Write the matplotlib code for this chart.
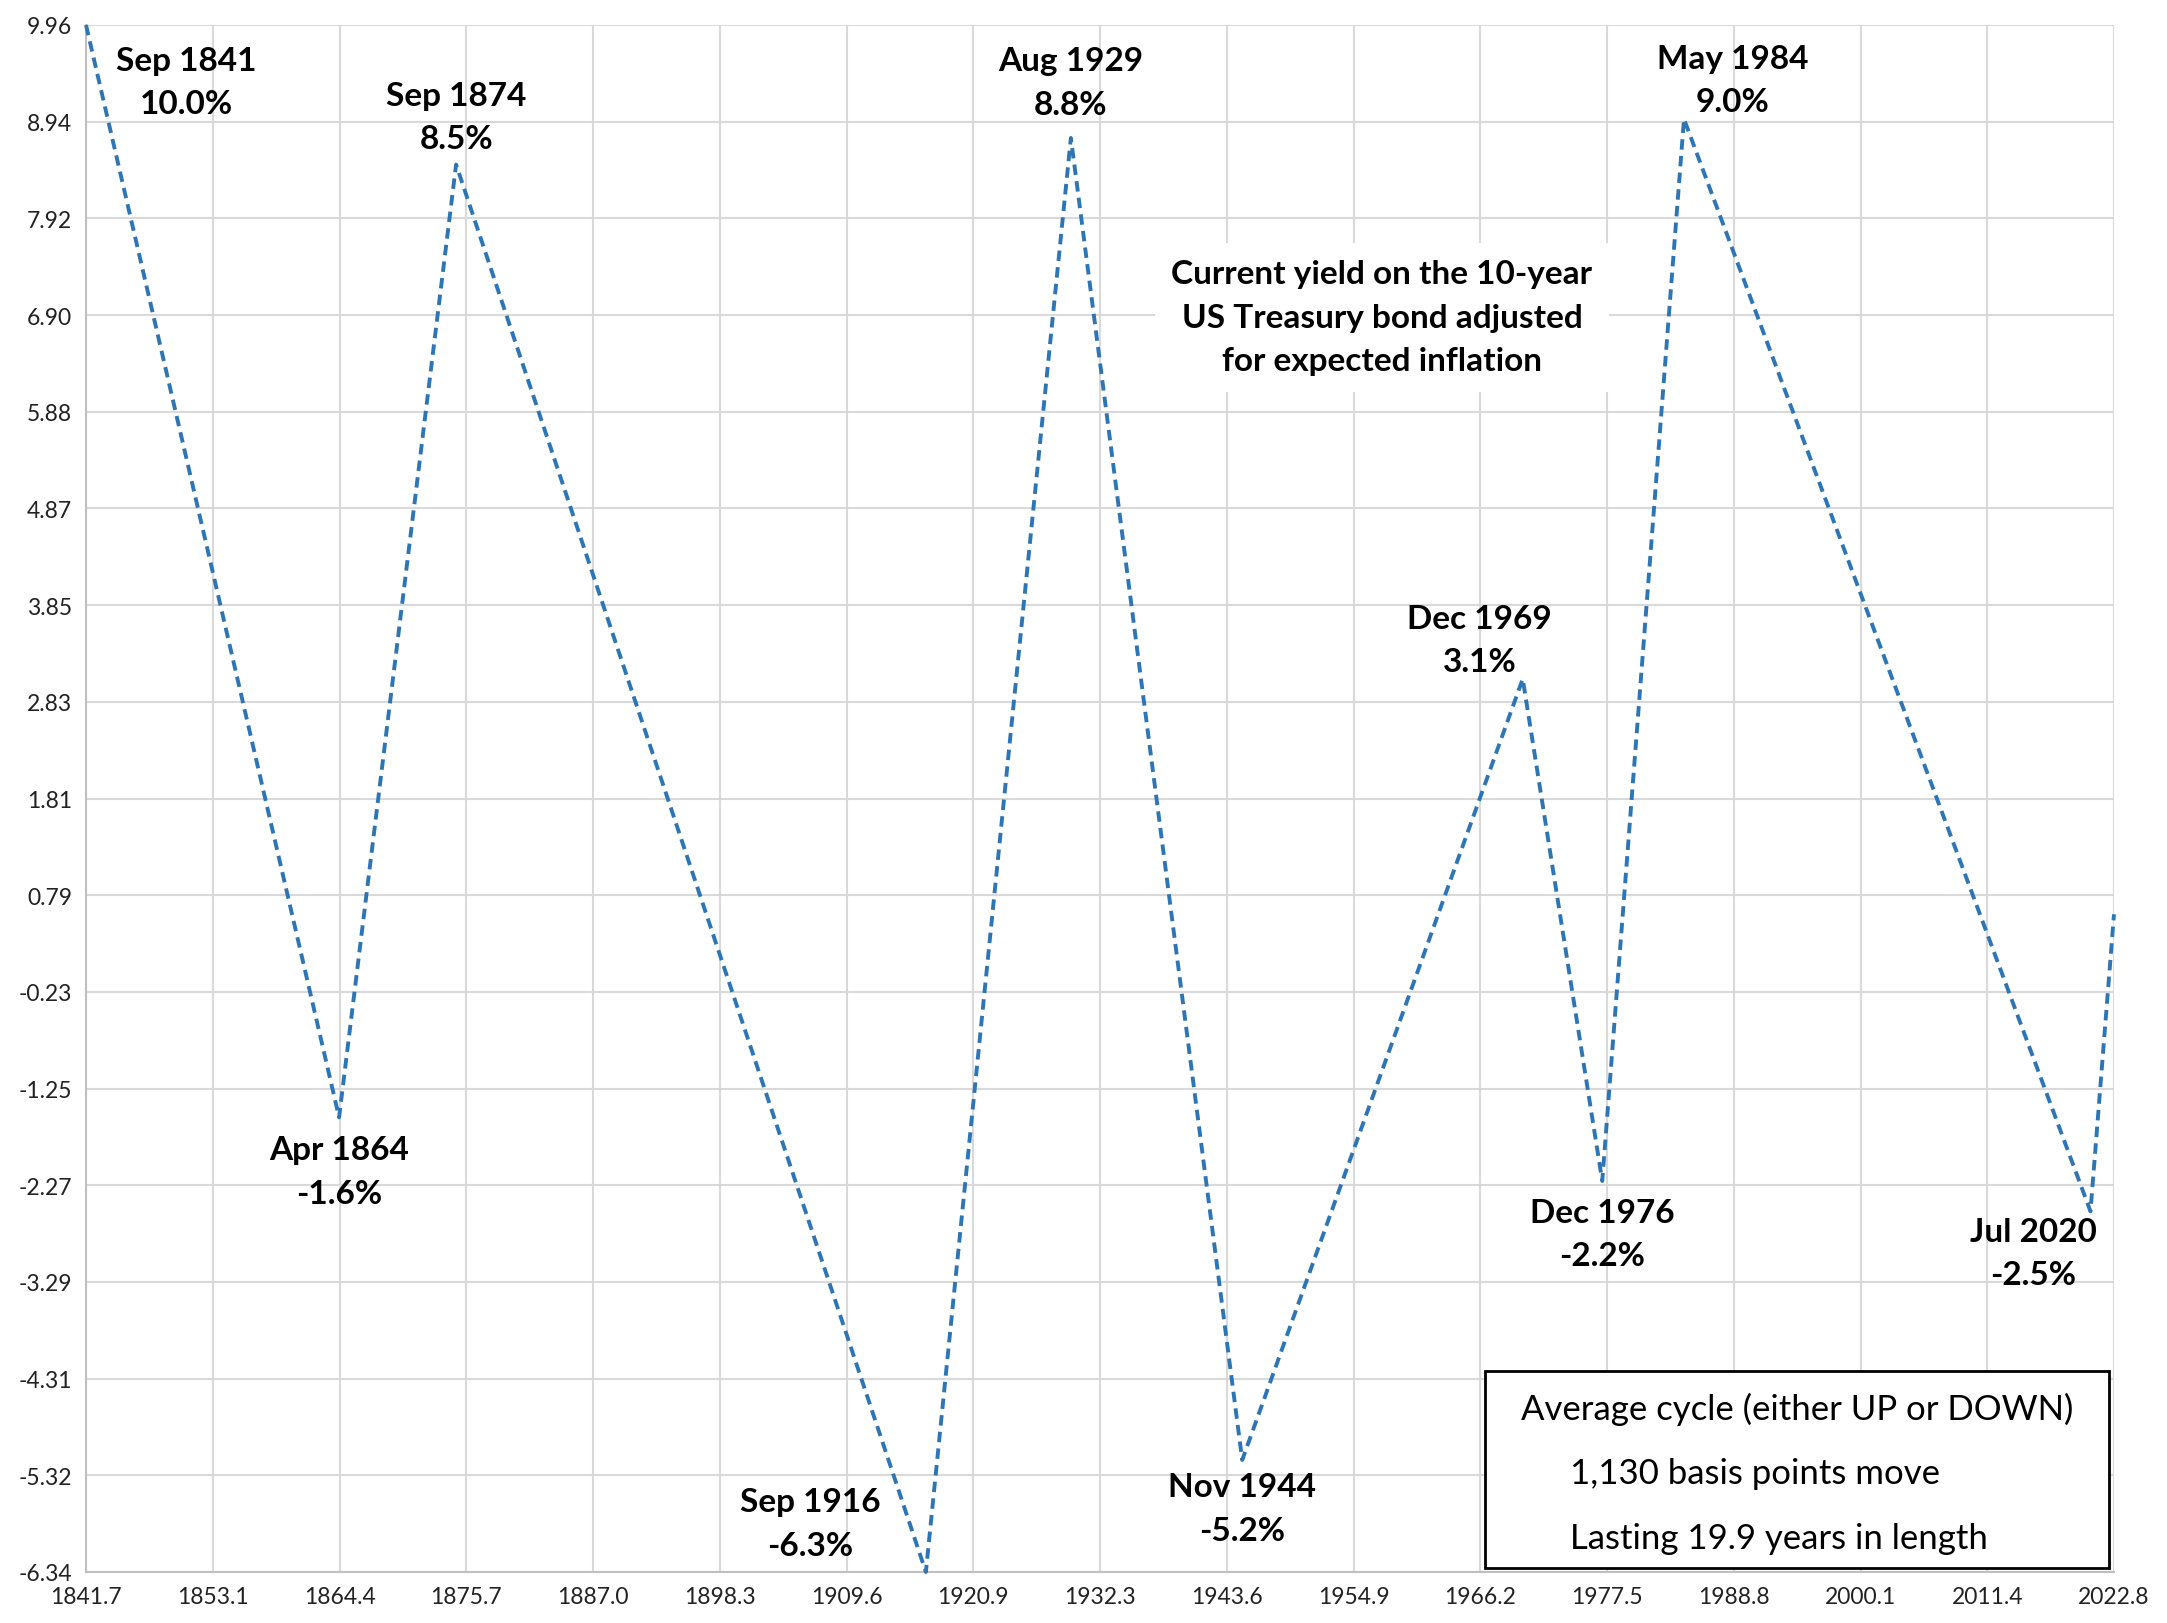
import numpy as np
import matplotlib
matplotlib.use("Agg")
import matplotlib.pyplot as plt
from matplotlib.patches import Rectangle

plt.rcParams['font.family'] = ['Lato', 'DejaVu Sans']

# turning points of the real 10-year yield (decimal year, percent)
years  = [1841.7, 1864.3, 1874.75, 1916.7, 1929.65, 1944.95, 1970.0, 1977.1, 1984.4, 2020.7, 2022.8]
values = [9.96, -1.55, 8.49, -6.34, 8.77, -5.16, 3.07, -2.22, 8.97, -2.54, 0.59]

names = ["Sep 1841", "Apr 1864", "Sep 1874", "Sep 1916", "Aug 1929",
         "Nov 1944", "Dec 1969", "Dec 1976", "May 1984", "Jul 2020"]
pcts  = ["10.0%", "-1.6%", "8.5%", "-6.3%", "8.8%",
         "-5.2%", "3.1%", "-2.2%", "9.0%", "-2.5%"]
# label offsets from the point, in points
offsets = [(72, -41), (0, -39), (0, 34), (-83, 35), (0, 40),
           (0, -35), (-31, 28), (0, -38), (35, 28), (-41, -30)]

x_ticks = ["1841.7", "1853.1", "1864.4", "1875.7", "1887.0", "1898.3", "1909.6", "1920.9",
           "1932.3", "1943.6", "1954.9", "1966.2", "1977.5", "1988.8", "2000.1", "2011.4", "2022.8"]
y_ticks = ["-6.34", "-5.32", "-4.31", "-3.29", "-2.27", "-1.25", "-0.23", "0.79", "1.81",
           "2.83", "3.85", "4.87", "5.88", "6.90", "7.92", "8.94", "9.96"]

fig = plt.figure(figsize=(21.67, 16.24), dpi=100)
ax = fig.add_axes([86/2167, 1 - 1573/1624, (2114 - 86)/2167, (1573 - 26)/1624])

ax.set_xlim(1841.7, 2022.8)
ax.set_ylim(-6.34, 9.96)
ax.set_xticks(np.linspace(1841.7, 2022.8, len(x_ticks)))
ax.set_xticklabels(x_ticks)
ax.set_yticks(np.linspace(-6.34, 9.96, len(y_ticks)))
ax.set_yticklabels(y_ticks)
ax.tick_params(length=0, labelsize=16.5, colors="#222222", pad=10)

ax.grid(True, color="#d9d9d9", linewidth=1.5)
ax.set_axisbelow(True)
for s in ["top", "right"]:
    ax.spines[s].set_visible(False)
for s in ["left", "bottom"]:
    ax.spines[s].set_color("#bfbfbf")
    ax.spines[s].set_linewidth(1.5)

ax.plot(years, values, color="#2e75b6", linewidth=2.8,
        linestyle=(0, (2.7, 1.6)), clip_on=False, zorder=3)

for i in range(len(names)):
    ax.annotate(names[i] + "\n" + pcts[i], (years[i], values[i]),
                xytext=offsets[i], textcoords="offset points",
                ha="center", va="center", fontsize=24, fontweight="bold",
                linespacing=1.6, zorder=5)

# note in a white box
ax.text(0.639, 0.811, "Current yield on the 10-year\nUS Treasury bond adjusted\nfor expected inflation",
        transform=ax.transAxes, ha="center", va="center", fontsize=24,
        fontweight="bold", linespacing=1.6, zorder=4,
        bbox=dict(facecolor="white", edgecolor="none", pad=12))

# summary box
box = Rectangle((0.690, 0.0026), 0.3075, 0.1273, transform=ax.transAxes,
                facecolor="white", edgecolor="black", linewidth=2, zorder=4)
ax.add_patch(box)
ax.text(0.844, 0.106, "Average cycle (either UP or DOWN)", transform=ax.transAxes,
        ha="center", va="center", fontsize=25, zorder=5)
ax.text(0.732, 0.064, "1,130 basis points move", transform=ax.transAxes,
        ha="left", va="center", fontsize=25, zorder=5)
ax.text(0.732, 0.022, "Lasting 19.9 years in length", transform=ax.transAxes,
        ha="left", va="center", fontsize=25, zorder=5)

fig.savefig("out.png", dpi=100)
